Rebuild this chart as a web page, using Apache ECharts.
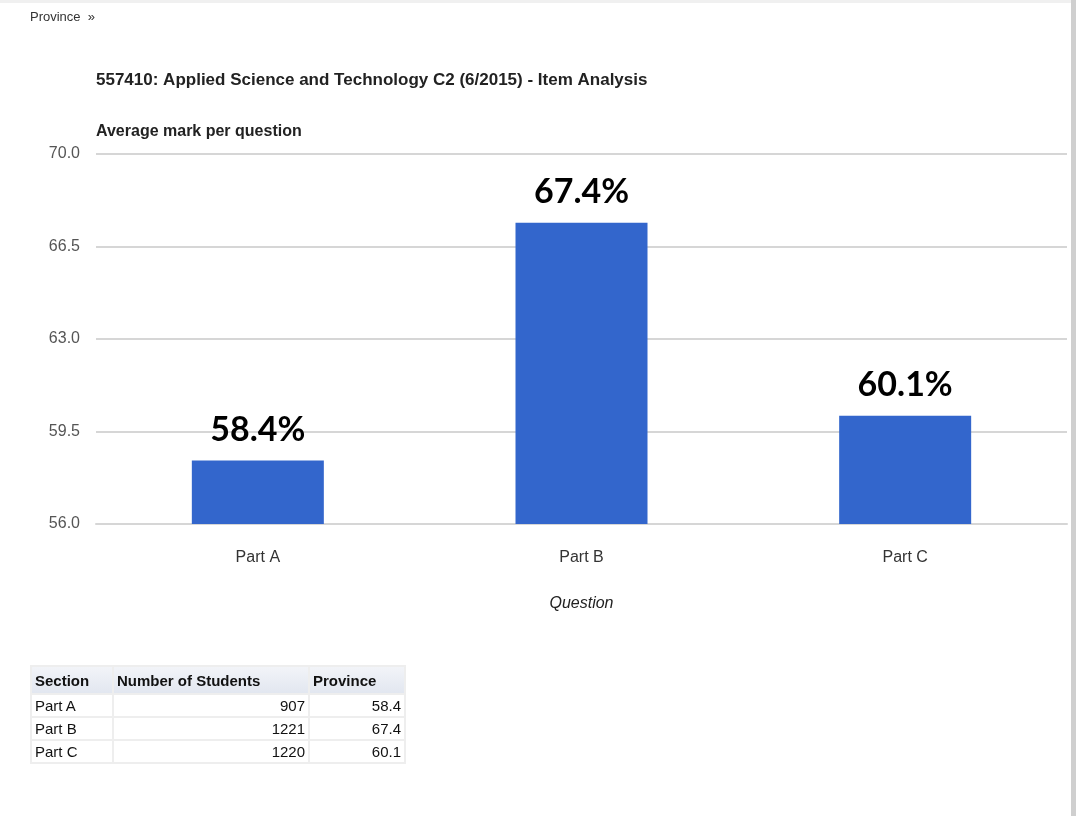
<!DOCTYPE html>
<html>
<head>
<meta charset="utf-8">
<script src="https://cdn.jsdelivr.net/npm/echarts@6/dist/echarts.min.js"></script>
<style>
  html, body { margin: 0; padding: 0; background: #fff; }
  #wrap { position: relative; width: 1076px; height: 816px; overflow: hidden; }
  #chart { position: absolute; left: 0; top: 0; width: 1076px; height: 816px; }
  #edge { position: absolute; right: 0; top: 0; width: 5px; height: 816px; background: #cfcfcf; }
  #topedge { position: absolute; left: 0; top: 0; width: 1076px; height: 3px; background: #f0f0f0; }
  #tbl {
    position: absolute; left: 30px; top: 665px;
    border-collapse: collapse;
    font-family: "Liberation Sans Narrow", "Arial Narrow", "Liberation Sans", Arial, sans-serif;
    font-size: 15px; color: #111;
    border: 2px solid #e6e6e6;
  }
  #tbl th, #tbl td { border: 2px solid #eeeeee; padding: 0 3px; height: 21px; }
  #tbl th { background: linear-gradient(#f2f4f8, #e2e7f0); font-weight: bold; height: 26px; text-align: left; }
  #tbl td.num { text-align: right; }
</style>
</head>
<body>
<div id="wrap">
  <div id="chart"></div>
  <table id="tbl"></table>
  <div id="topedge"></div>
  <div id="edge"></div>
</div>
<script>
var categories = ['Part A', 'Part B', 'Part C']
var averageMark = [58.4, 67.4, 60.1]
var studentCount = [907, 1221, 1220]
var tableHeaders = ['Section', 'Number of Students', 'Province']

var narrow = '"Liberation Sans Narrow", "Arial Narrow", "Liberation Sans", Arial, sans-serif'

// table under the chart
var tbl = document.getElementById('tbl')
var html = '<tr>' + tableHeaders.map(function (h) { return '<th>' + h + '</th>' }).join('') + '</tr>'
categories.forEach(function (c, i) {
  html += '<tr><td style="width:74px">' + c + '</td><td class="num" style="width:188px">' + studentCount[i] +
    '</td><td class="num" style="width:88px">' + averageMark[i].toFixed(1) + '</td></tr>'
})
tbl.innerHTML = html

var chart = echarts.init(document.getElementById('chart'))
chart.setOption({
  animation: false,
  graphic: [
    { type: 'text', left: 30, top: 11, style: { text: 'Province  »', font: '13px ' + narrow, fill: '#333' } },
    { type: 'text', left: 96, top: 72, style: { text: '557410: Applied Science and Technology C2 (6/2015) - Item Analysis', font: 'bold 17px ' + narrow, fill: '#222' } },
    { type: 'text', left: 96, top: 124, style: { text: 'Average mark per question', font: 'bold 16px ' + narrow, fill: '#222' } }
  ],
  grid: { left: 96, right: 9, top: 154, bottom: 292 },
  xAxis: {
    type: 'category',
    data: categories,
    axisTick: { show: false },
    axisLine: { lineStyle: { color: '#d6d6d6', width: 2 } },
    axisLabel: { margin: 26, fontFamily: narrow, fontSize: 16, color: '#333' },
    name: 'Question',
    nameLocation: 'middle',
    nameGap: 72,
    nameTextStyle: { fontFamily: narrow, fontSize: 16, fontStyle: 'italic', color: '#222' }
  },
  yAxis: {
    type: 'value',
    min: 56,
    max: 70,
    interval: 3.5,
    axisLine: { show: false },
    axisTick: { show: false },
    axisLabel: {
      margin: 16,
      fontFamily: narrow, fontSize: 16, color: '#555',
      formatter: function (v) { return v.toFixed(1) }
    },
    splitLine: { lineStyle: { color: '#d6d6d6', width: 2 } }
  },
  series: [{
    type: 'bar',
    data: averageMark,
    barWidth: 132,
    itemStyle: { color: '#3366cc' },
    label: {
      show: true,
      position: 'top',
      distance: 14,
      formatter: function (p) { return p.value.toFixed(1) + '%' },
      fontFamily: 'Lato, "DejaVu Sans", sans-serif',
      fontWeight: 'bold',
      fontSize: 34,
      color: '#000'
    }
  }]
})
</script>
</body>
</html>
